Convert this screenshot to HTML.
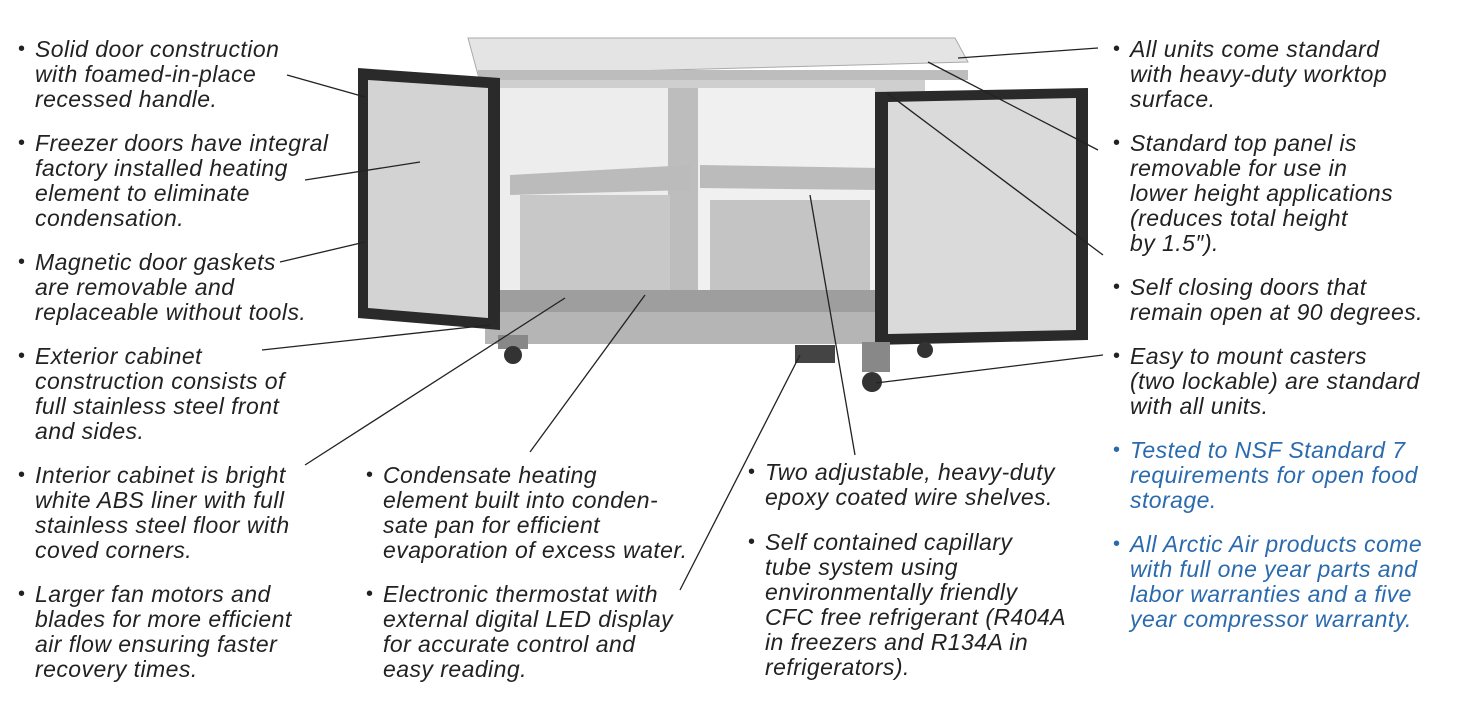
<!DOCTYPE html>
<html><head><meta charset="utf-8">
<style>
html,body{margin:0;padding:0;background:#fff;}
#w{position:relative;width:1464px;height:713px;overflow:hidden;font-family:"Liberation Sans",sans-serif;font-style:italic;font-size:23px;letter-spacing:0.45px;color:#222;}
.b{position:absolute;line-height:25px;white-space:nowrap;}
.b::before{content:"•";position:absolute;left:-17px;top:0;font-style:normal;font-size:20px;}
.blue{color:#2a6aad;}
svg{position:absolute;left:0;top:0;}
</style></head><body><div id="w">
<svg width="1464" height="713" viewBox="0 0 1464 713">
<polygon points="468,38 955,38 968,62 478,75" fill="#e4e4e4" stroke="#aaa"/>
<rect x="478" y="70" width="490" height="10" fill="#bdbdbd"/>
<rect x="485" y="80" width="440" height="262" fill="#cfcfcf"/>
<rect x="500" y="88" width="175" height="205" fill="#ededed"/>
<rect x="690" y="88" width="185" height="205" fill="#f0f0f0"/>
<rect x="668" y="88" width="30" height="210" fill="#bdbdbd"/>
<rect x="500" y="290" width="380" height="22" fill="#9e9e9e"/>
<rect x="520" y="195" width="150" height="95" fill="#c8c8c8"/>
<rect x="710" y="200" width="160" height="90" fill="#c4c4c4"/>
<polygon points="510,175 690,165 690,190 510,195" fill="#bbb"/>
<polygon points="700,165 880,168 880,190 700,188" fill="#bbb"/>
<rect x="485" y="312" width="440" height="32" fill="#b5b5b5"/>
<rect x="795" y="345" width="40" height="18" fill="#444"/>
<polygon points="358,68 500,78 500,330 358,318" fill="#2a2a2a"/>
<polygon points="368,80 488,88 488,318 368,308" fill="#d3d3d3"/>
<polygon points="875,92 1088,88 1088,340 875,345" fill="#2a2a2a"/>
<polygon points="888,102 1076,98 1076,330 888,334" fill="#dadada"/>
<rect x="498" y="335" width="30" height="14" fill="#888"/>
<circle cx="513" cy="355" r="9" fill="#333"/>
<rect x="862" y="342" width="28" height="30" fill="#888"/>
<circle cx="872" cy="382" r="10" fill="#333"/>
<circle cx="925" cy="350" r="8" fill="#333"/>
<g stroke="#222" stroke-width="1.3">
<line x1="287" y1="75" x2="365" y2="97"/>
<line x1="305" y1="180" x2="420" y2="162"/>
<line x1="280" y1="262" x2="365" y2="242"/>
<line x1="262" y1="350" x2="490" y2="325"/>
<line x1="305" y1="465" x2="565" y2="298"/>
<line x1="530" y1="452" x2="645" y2="295"/>
<line x1="680" y1="590" x2="800" y2="355"/>
<line x1="855" y1="455" x2="810" y2="195"/>
<line x1="1098" y1="48" x2="958" y2="58"/>
<line x1="1098" y1="150" x2="928" y2="62"/>
<line x1="1103" y1="255" x2="887" y2="93"/>
<line x1="1103" y1="355" x2="876" y2="383"/>
</g>
</svg>
<div class="b" style="left:35px;top:37px">Solid door construction<br>with foamed-in-place<br>recessed handle.</div>
<div class="b" style="left:35px;top:131px">Freezer doors have integral<br>factory installed heating<br>element to eliminate<br>condensation.</div>
<div class="b" style="left:35px;top:250px">Magnetic door gaskets<br>are removable and<br>replaceable without tools.</div>
<div class="b" style="left:35px;top:344px">Exterior cabinet<br>construction consists of<br>full stainless steel front<br>and sides.</div>
<div class="b" style="left:35px;top:463px">Interior cabinet is bright<br>white ABS liner with full<br>stainless steel floor with<br>coved corners.</div>
<div class="b" style="left:35px;top:582px">Larger fan motors and<br>blades for more efficient<br>air flow ensuring faster<br>recovery times.</div>
<div class="b" style="left:383px;top:463px">Condensate heating<br>element built into conden-<br>sate pan for efficient<br>evaporation of excess water.</div>
<div class="b" style="left:383px;top:582px">Electronic thermostat with<br>external digital LED display<br>for accurate control and<br>easy reading.</div>
<div class="b" style="left:765px;top:460px">Two adjustable, heavy-duty<br>epoxy coated wire shelves.</div>
<div class="b" style="left:765px;top:530px">Self contained capillary<br>tube system using<br>environmentally friendly<br>CFC free refrigerant (R404A<br>in freezers and R134A in<br>refrigerators).</div>
<div class="b" style="left:1130px;top:37px">All units come standard<br>with heavy-duty worktop<br>surface.</div>
<div class="b" style="left:1130px;top:131px">Standard top panel is<br>removable for use in<br>lower height applications<br>(reduces total height<br>by 1.5″).</div>
<div class="b" style="left:1130px;top:275px">Self closing doors that<br>remain open at 90 degrees.</div>
<div class="b" style="left:1130px;top:344px">Easy to mount casters<br>(two lockable) are standard<br>with all units.</div>
<div class="b blue" style="left:1130px;top:438px">Tested to NSF Standard 7<br>requirements for open food<br>storage.</div>
<div class="b blue" style="left:1130px;top:532px">All Arctic Air products come<br>with full one year parts and<br>labor warranties and a five<br>year compressor warranty.</div>
</div></body></html>
